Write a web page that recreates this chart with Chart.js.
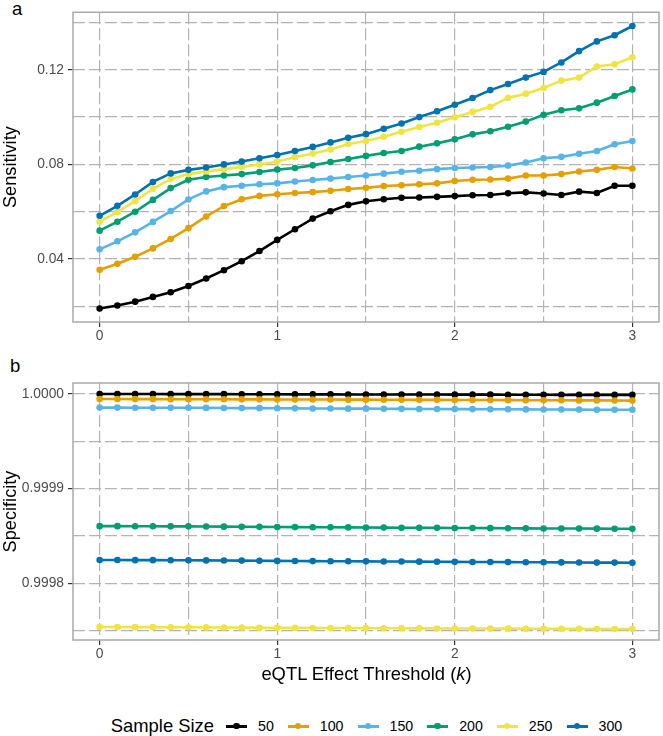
<!DOCTYPE html>
<html>
<head>
<meta charset="utf-8">
<script src="https://cdn.jsdelivr.net/npm/chart.js@4.4.1/dist/chart.umd.min.js"></script>
<style>
  body { margin: 0; background: #fff; font-family: "Liberation Sans", Arial, sans-serif; }
  #wrap { position: relative; width: 663px; height: 736px; overflow: hidden; }
  .panel { position: absolute; left: 0; width: 663px; }
  .tag { position: absolute; font-size: 18.5px; color: #000; line-height: 18px; }
  #xtitle { position: absolute; left: 73px; width: 587px; top: 663px; text-align: center; font-size: 18.4px; line-height: 22px; }
  #legend { position: absolute; left: 73px; width: 587px; top: 714px; height: 24px; display: flex; justify-content: center; align-items: center; font-size: 14.2px; }
  #legend .ttl { font-size: 18.4px; margin-right: 12px; }
  #legend .key { position: relative; width: 21px; height: 12px; margin-right: 11px; }
  #legend .key .ln { position: absolute; left: 0; top: 4.5px; width: 21px; height: 3px; }
  #legend .key .dt { position: absolute; left: 7px; top: 2.7px; width: 6.6px; height: 6.6px; border-radius: 50%; }
  #legend .lab { margin-right: 14px; }
  #legend .lab:last-child { margin-right: 0; }
</style>
</head>
<body>
<div id="wrap">
  <div class="tag" style="left:12px;top:0px">a</div>
  <div class="panel" style="top:0;height:345px"><canvas id="sens" width="663" height="345"></canvas></div>
  <div class="tag" style="left:10px;top:357px">b</div>
  <div class="panel" style="top:345px;height:320px"><canvas id="spec" width="663" height="320"></canvas></div>
  <div id="xtitle">eQTL Effect Threshold (<i>k</i>)</div>
  <div id="legend"></div>
</div>
<script>
// eQTL effect threshold k
var kValues = [0, 0.1, 0.2, 0.3, 0.4, 0.5, 0.6, 0.7, 0.8, 0.9, 1.0, 1.1, 1.2, 1.3, 1.4, 1.5,
               1.6, 1.7, 1.8, 1.9, 2.0, 2.1, 2.2, 2.3, 2.4, 2.5, 2.6, 2.7, 2.8, 2.9, 3.0];
var sampleSizes = ['50', '100', '150', '200', '250', '300'];
var colores = ['#000000', '#E69F00', '#56B4E9', '#009E73', '#F0E442', '#0072B2'];

// panel a: sensitivity
var sens50  = [0.0191, 0.0204, 0.0220, 0.0240, 0.0260, 0.0286, 0.0318, 0.0353, 0.0391, 0.0434, 0.0481, 0.0526, 0.0571, 0.0602, 0.0629, 0.0644,
               0.0653, 0.0659, 0.0660, 0.0663, 0.0666, 0.0670, 0.0671, 0.0678, 0.0682, 0.0677, 0.0671, 0.0685, 0.0679, 0.0710, 0.0710];
var sens100 = [0.0355, 0.0380, 0.0410, 0.0445, 0.0485, 0.0531, 0.0580, 0.0624, 0.0653, 0.0667, 0.0674, 0.0679, 0.0683, 0.0689, 0.0696, 0.0701,
               0.0709, 0.0712, 0.0716, 0.0720, 0.0730, 0.0735, 0.0736, 0.0740, 0.0753, 0.0753, 0.0759, 0.0770, 0.0777, 0.0789, 0.0783];
var sens150 = [0.0441, 0.0475, 0.0513, 0.0557, 0.0603, 0.0652, 0.0686, 0.0704, 0.0710, 0.0716, 0.0720, 0.0728, 0.0734, 0.0740, 0.0747, 0.0753,
               0.0761, 0.0769, 0.0773, 0.0780, 0.0785, 0.0787, 0.0789, 0.0795, 0.0808, 0.0826, 0.0832, 0.0845, 0.0857, 0.0885, 0.0899];
var sens200 = [0.0520, 0.0558, 0.0600, 0.0650, 0.0700, 0.0735, 0.0747, 0.0753, 0.0759, 0.0768, 0.0778, 0.0785, 0.0796, 0.0810, 0.0823, 0.0836,
               0.0848, 0.0857, 0.0875, 0.0889, 0.0906, 0.0927, 0.0940, 0.0959, 0.0981, 0.1010, 0.1029, 0.1037, 0.1061, 0.1089, 0.1117];
var sens250 = [0.0558, 0.0599, 0.0645, 0.0697, 0.0738, 0.0759, 0.0770, 0.0780, 0.0789, 0.0800, 0.0812, 0.0830, 0.0846, 0.0863, 0.0886, 0.0899,
               0.0917, 0.0938, 0.0958, 0.0976, 0.0999, 0.1022, 0.1044, 0.1082, 0.1099, 0.1123, 0.1154, 0.1167, 0.1214, 0.1223, 0.1253];
var sens300 = [0.0583, 0.0625, 0.0673, 0.0726, 0.0762, 0.0777, 0.0787, 0.0800, 0.0812, 0.0826, 0.0840, 0.0857, 0.0874, 0.0893, 0.0913, 0.0928,
               0.0951, 0.0973, 0.1000, 0.1025, 0.1052, 0.1081, 0.1114, 0.1140, 0.1167, 0.1191, 0.1231, 0.1279, 0.1320, 0.1346, 0.1385];

// panel b: specificity
var spec50  = [0.9999999, 0.9999999, 0.9999999, 0.9999999, 0.9999998, 0.9999998, 0.9999998, 0.9999998, 0.9999997, 0.9999997, 0.9999997,
               0.9999996, 0.9999996, 0.9999996, 0.9999995, 0.9999995, 0.9999995, 0.9999994, 0.9999994, 0.9999994, 0.9999993, 0.9999993,
               0.9999993, 0.9999992, 0.9999992, 0.9999992, 0.9999991, 0.9999991, 0.9999991, 0.9999990, 0.9999990];
var spec100 = [0.9999947, 0.9999947, 0.9999946, 0.9999946, 0.9999945, 0.9999945, 0.9999944, 0.9999944, 0.9999943, 0.9999943, 0.9999942,
               0.9999942, 0.9999941, 0.9999941, 0.9999940, 0.9999940, 0.9999939, 0.9999939, 0.9999938, 0.9999938, 0.9999937, 0.9999936,
               0.9999936, 0.9999935, 0.9999934, 0.9999934, 0.9999933, 0.9999932, 0.9999932, 0.9999931, 0.9999930];
var spec150 = [0.9999856, 0.9999856, 0.9999855, 0.9999855, 0.9999855, 0.9999854, 0.9999853, 0.9999852, 0.9999851, 0.9999850, 0.9999849,
               0.9999848, 0.9999847, 0.9999846, 0.9999845, 0.9999845, 0.9999844, 0.9999843, 0.9999842, 0.9999841, 0.9999840, 0.9999840,
               0.9999839, 0.9999838, 0.9999837, 0.9999836, 0.9999836, 0.9999835, 0.9999834, 0.9999834, 0.9999833];
var spec200 = [0.9998603, 0.9998603, 0.9998602, 0.9998602, 0.9998601, 0.9998601, 0.9998599, 0.9998598, 0.9998597, 0.9998596, 0.9998594,
               0.9998593, 0.9998592, 0.9998591, 0.9998590, 0.9998589, 0.9998588, 0.9998587, 0.9998586, 0.9998585, 0.9998584, 0.9998583,
               0.9998582, 0.9998581, 0.9998580, 0.9998579, 0.9998578, 0.9998578, 0.9998577, 0.9998576, 0.9998575];
var spec250 = [0.9997537, 0.9997537, 0.9997536, 0.9997536, 0.9997535, 0.9997534, 0.9997533, 0.9997532, 0.9997531, 0.9997530, 0.9997529,
               0.9997528, 0.9997527, 0.9997527, 0.9997526, 0.9997525, 0.9997524, 0.9997524, 0.9997523, 0.9997522, 0.9997522, 0.9997521,
               0.9997520, 0.9997520, 0.9997519, 0.9997519, 0.9997518, 0.9997518, 0.9997517, 0.9997517, 0.9997516];
var spec300 = [0.9998245, 0.9998245, 0.9998244, 0.9998244, 0.9998243, 0.9998243, 0.9998241, 0.9998240, 0.9998239, 0.9998238, 0.9998236,
               0.9998235, 0.9998234, 0.9998233, 0.9998232, 0.9998231, 0.9998230, 0.9998229, 0.9998228, 0.9998227, 0.9998226, 0.9998225,
               0.9998224, 0.9998223, 0.9998222, 0.9998221, 0.9998220, 0.9998219, 0.9998218, 0.9998218, 0.9998217];

var sensSeries = [sens50, sens100, sens150, sens200, sens250, sens300];
var specSeries = [spec50, spec100, spec150, spec200, spec250, spec300];

var FONT = '"Liberation Sans", Arial, sans-serif';
var GRID = '#b3b3b3';

// marco gris alrededor del panel
var panelBorder = {
    id: 'panelBorder',
    afterDraw: function (chart) {
        var a = chart.chartArea, ctx = chart.ctx;
        ctx.save();
        ctx.strokeStyle = '#a9a9a9';
        ctx.lineWidth = 1.5;
        ctx.strokeRect(a.left, a.top, a.right - a.left, a.bottom - a.top);
        ctx.restore();
    }
};

function makeDatasets(series) {
    return series.map(function (vals, i) {
        return {
            label: sampleSizes[i],
            data: vals.map(function (v, j) { return { x: kValues[j], y: v }; }),
            borderColor: colores[i],
            backgroundColor: colores[i],
            pointBackgroundColor: colores[i],
            pointBorderWidth: 0,
            pointRadius: 3.3,
            borderWidth: 2.6,
            tension: 0,
            order: series.length - i
        };
    });
}

function makeChart(canvasId, series, yOpts, pad, xHeight) {
    return new Chart(document.getElementById(canvasId), {
        type: 'line',
        data: { datasets: makeDatasets(series) },
        options: {
            responsive: false,
            animation: false,
            devicePixelRatio: 1,
            layout: { padding: pad },
            plugins: { legend: { display: false }, tooltip: { enabled: false } },
            scales: {
                x: {
                    type: 'linear',
                    min: -0.15,
                    max: 3.15,
                    afterFit: function (s) { s.height = xHeight; },
                    ticks: {
                        stepSize: 0.5,
                        includeBounds: false,
                        maxRotation: 0,
                        padding: 1,
                        color: '#4d4d4d',
                        font: { family: FONT, size: 13.8 },
                        callback: function (v) { return Math.abs(v - Math.round(v)) < 1e-6 ? String(Math.round(v)) : ''; }
                    },
                    grid: {
                        color: GRID,
                        lineWidth: 1.2,
                        tickLength: 5,
                        tickWidth: 1.2,
                        tickColor: function (c) {
                            return c.tick && Math.abs(c.tick.value - Math.round(c.tick.value)) < 1e-6 ? '#333333' : 'rgba(0,0,0,0)';
                        }
                    },
                    border: { display: false, dash: [12, 4] }
                },
                y: {
                    type: 'linear',
                    min: yOpts.min,
                    max: yOpts.max,
                    afterFit: function (s) { s.width = 73; },
                    title: {
                        display: true,
                        text: yOpts.title,
                        color: '#000',
                        font: { family: FONT, size: 18.2 },
                        padding: { top: 0, bottom: 0 }
                    },
                    ticks: {
                        stepSize: yOpts.step,
                        includeBounds: false,
                        padding: 4,
                        color: '#4d4d4d',
                        font: { family: FONT, size: 13.8 },
                        callback: function (v) { return yOpts.isMajor(v) ? v.toFixed(yOpts.dec) : ''; }
                    },
                    grid: {
                        color: GRID,
                        lineWidth: 1.2,
                        tickLength: 5,
                        tickWidth: 1.2,
                        tickColor: function (c) {
                            return c.tick && yOpts.isMajor(c.tick.value) ? '#333333' : 'rgba(0,0,0,0)';
                        }
                    },
                    border: { display: false, dash: [12, 4] }
                }
            }
        },
        plugins: [panelBorder]
    });
}

makeChart('sens', sensSeries, {
    min: 0.0134, max: 0.1443, step: 0.02, dec: 2, title: 'Sensitivity',
    isMajor: function (v) { return Math.round(v * 100) % 4 === 0; }
}, { top: 1, right: 3, left: 0, bottom: 0 }, 23);

makeChart('spec', specSeries, {
    min: 0.99974, max: 1.0000116, step: 0.00005, dec: 4, title: 'Specificity',
    isMajor: function (v) { return Math.round(v * 100000) % 10 === 0; }
}, { top: 38, right: 3, left: 0, bottom: 0 }, 25);

// leyenda compartida
var leg = document.getElementById('legend');
var t = document.createElement('span');
t.className = 'ttl';
t.textContent = 'Sample Size';
leg.appendChild(t);
sampleSizes.forEach(function (s, i) {
    var key = document.createElement('span');
    key.className = 'key';
    key.innerHTML = '<span class="ln" style="background:' + colores[i] + '"></span><span class="dt" style="background:' + colores[i] + '"></span>';
    leg.appendChild(key);
    var lab = document.createElement('span');
    lab.className = 'lab';
    lab.textContent = s;
    leg.appendChild(lab);
});
</script>
</body>
</html>
